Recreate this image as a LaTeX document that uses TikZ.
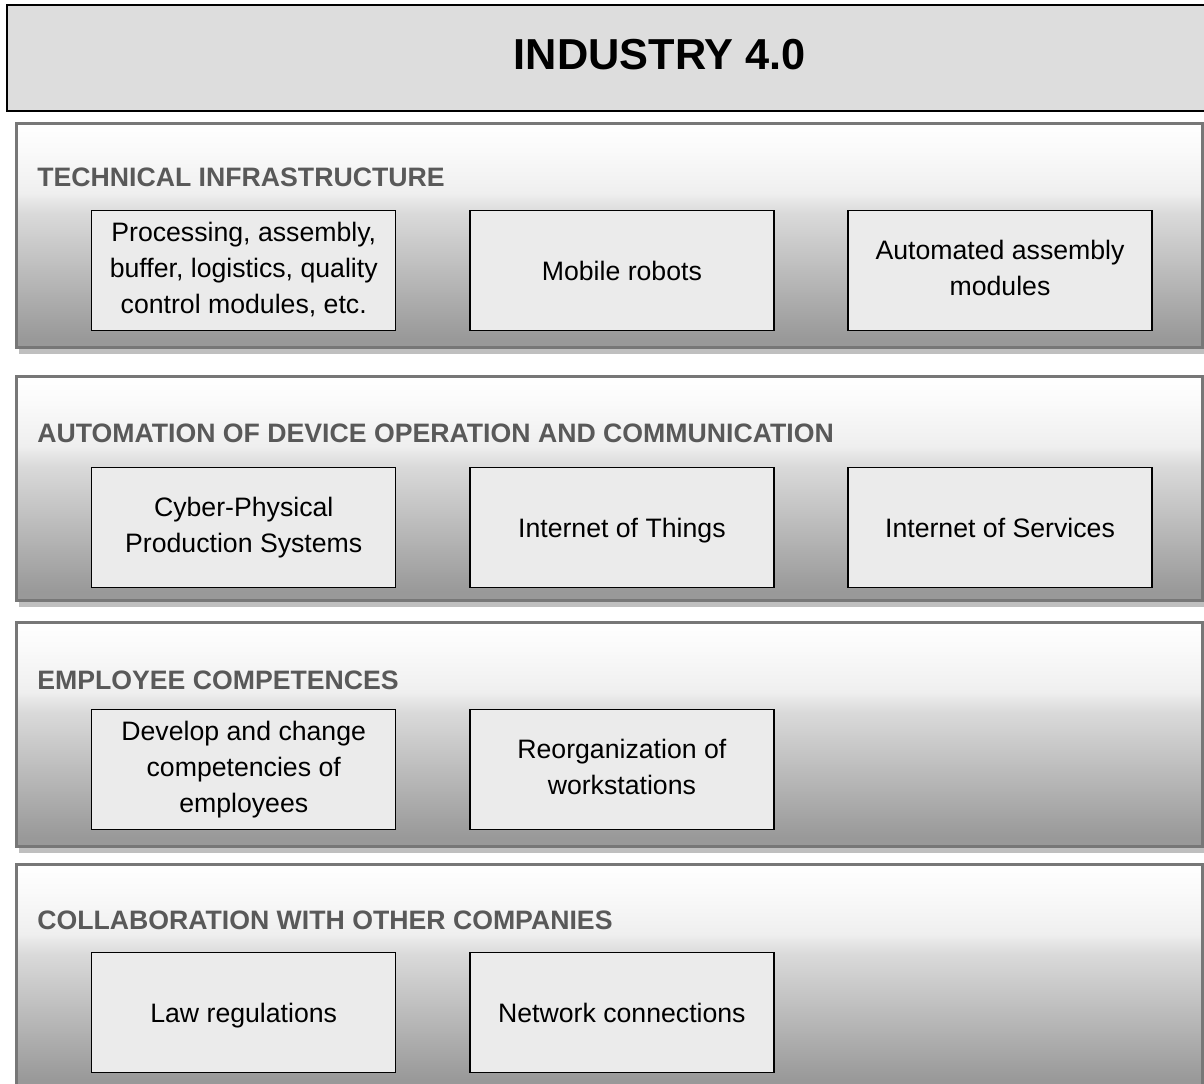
\documentclass[tikz,border=0pt]{standalone}
\usepackage{fontspec}
\setmainfont{Liberation Sans}
\usetikzlibrary{positioning,shadows}

\definecolor{titlefill}{HTML}{DDDDDD}
\definecolor{layerline}{HTML}{777777}
\definecolor{layershadow}{HTML}{BFBFBF}
\definecolor{labelgray}{HTML}{595959}
\definecolor{modfill}{HTML}{EBEBEB}
\definecolor{shadeA}{HTML}{999999}
\definecolor{shadeB}{HTML}{DADADA}
\definecolor{shadeC}{HTML}{EFEFEF}
\definecolor{shadeD}{HTML}{FAFAFA}

% white on top, grey towards the bottom of each layer
\pgfdeclareverticalshading{layershade}{100bp}{color(0bp)=(shadeA); color(27bp)=(shadeA); color(55bp)=(shadeB); color(59.5bp)=(shadeC); color(69bp)=(shadeD); color(75bp)=(white); color(100bp)=(white)}

% keeps the text of the boxes centred on the capitals
\newcommand{\modstrut}{\rule[-5pt]{0pt}{24.4pt}}

\begin{document}
\begin{tikzpicture}[x=0.75pt, y=0.75pt,
    headbox/.style = {draw, line width=2pt, fill=titlefill, minimum width=979.5pt, minimum height=79.5pt, inner sep=0pt, text depth=5pt, font=\fontsize{32.5}{39}\selectfont\bfseries},
    layer/.style = {draw=layerline, line width=1.9pt, shading=layershade, anchor=north west, minimum width=889.5pt, minimum height=168pt, inner sep=0pt,
        drop shadow={shadow xshift=2.25pt, shadow yshift=-5.25pt, fill=layershadow, opacity=1}},
    layertitle/.style = {anchor=base west, inner sep=0pt, text=labelgray, font=\fontsize{20}{24}\selectfont\bfseries},
    module/.style = {draw, line width=1.1pt, fill=modfill, anchor=north west, minimum width=228pt, minimum height=90pt, align=center, inner sep=2pt, font=\fontsize{20}{27}\selectfont,
        execute at begin node=\modstrut, execute at end node=\modstrut},
    node distance=54.5pt]
    \useasboundingbox (0,0) rectangle (1204,-1084);

    % heading
    \node[headbox] (head) at (660,-58) {INDUSTRY 4.0};

    % the four layers
    \node[layer] (infra) at (15,-122) {};
    \node[layer] (auto) at (15,-375) {};
    \node[layer] (staff) at (15,-621) {};
    \node[layer] (partner) at (15,-863) {};

    \node[layertitle] (infra label) at (37,-187) {TECHNICAL INFRASTRUCTURE};
    \node[layertitle] (auto label) at (37,-443) {AUTOMATION OF DEVICE OPERATION AND COMMUNICATION};
    \node[layertitle] (staff label) at (37,-689) {EMPLOYEE COMPETENCES};
    \node[layertitle] (partner label) at (37,-929) {COLLABORATION WITH OTHER COMPANIES};

    % technical infrastructure
    \node[module] (modules) at (91,-210) {Processing, assembly,\\ buffer, logistics, quality\\ control modules, etc.};
    \node[module] (robots) [right=of modules] {Mobile robots};
    \node[module] (assembly) [right=of robots] {Automated assembly\\ modules};

    % automation
    \node[module] (cpps) at (91,-467) {Cyber-Physical\\ Production Systems};
    \node[module] (iot) [right=of cpps] {Internet of Things};
    \node[module] (ios) [right=of iot] {Internet of Services};

    % employees
    \node[module] (skills) at (91,-709) {Develop and change\\ competencies of\\ employees};
    \node[module] (stations) [right=of skills] {Reorganization of\\ workstations};

    % collaboration
    \node[module] (law) at (91,-952) {Law regulations};
    \node[module] (network) [right=of law] {Network connections};
\end{tikzpicture}
\end{document}
